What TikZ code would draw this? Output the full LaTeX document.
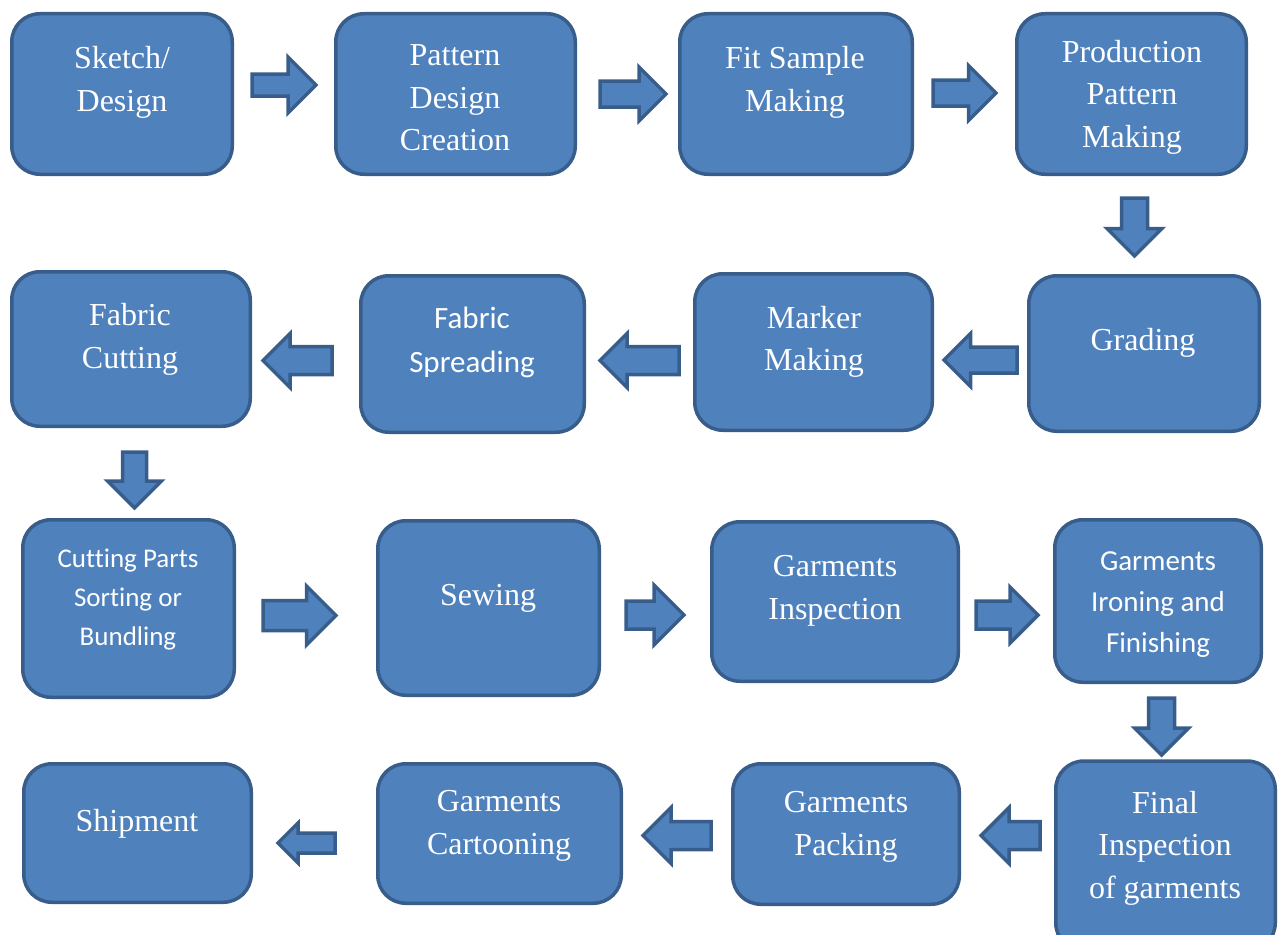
\documentclass[tikz,border=0pt]{standalone}
\usepackage{fontspec}
\setmainfont{Liberation Serif}
\newfontfamily\calib[Ligatures=NoCommon]{Carlito}
\definecolor{boxfill}{HTML}{4F81BD}
\definecolor{boxline}{HTML}{385D8A}
\tikzset{
  box/.style={draw=boxline, fill=boxfill, line width=3.5pt, rounded corners=28pt, inner sep=0pt},
  txt/.style={text=white, align=center, inner sep=0pt, font=\fontsize{32}{42.5}\selectfont},
  stxt/.style n args={2}{text=white, align=center, inner sep=0pt, font=\calib\fontsize{#1}{#2}\selectfont},
  blockarrow/.style={draw=boxline, fill=boxfill, line width=3.5pt},
}
% name, x, y, rotation, length, half shaft, half head
\newcommand\blockarr[7]{%
  \begin{scope}[shift={(#2,#3)}, rotate=#4]
    \draw[blockarrow] ({-#5/2},{-#6}) -- ({#5/2-#7},{-#6}) -- ({#5/2-#7},{-#7})
      -- ({#5/2},0) -- ({#5/2-#7},{#7}) -- ({#5/2-#7},{#6}) -- ({-#5/2},{#6}) -- cycle;
    \coordinate (#1) at (0,0);
  \end{scope}}
\begin{document}
\begin{tikzpicture}[x=1pt, y=-1pt]
\useasboundingbox (0,0) rectangle (1281,934);
\clip (0,0) rectangle (1281,934);
% boxes
\node[box, minimum width=220.5pt, minimum height=160.5pt] (b1) at (122,94) {};
\node[box, minimum width=239.5pt, minimum height=160.5pt] (b2) at (455.5,94) {};
\node[box, minimum width=232.5pt, minimum height=160.5pt] (b3) at (796,94) {};
\node[box, minimum width=229.5pt, minimum height=160.5pt] (b4) at (1131.5,94) {};
\node[box, minimum width=238.5pt, minimum height=154.5pt] (b5) at (131,349) {};
\node[box, minimum width=223.5pt, minimum height=156.5pt] (b6) at (472.5,354) {};
\node[box, minimum width=237.5pt, minimum height=156.5pt] (b7) at (813.5,352) {};
\node[box, minimum width=230.5pt, minimum height=155.5pt] (b8) at (1144,353.5) {};
\node[box, minimum width=211.5pt, minimum height=177.5pt] (b9) at (128.5,608.5) {};
\node[box, minimum width=221.5pt, minimum height=174.5pt] (b10) at (488.5,608) {};
\node[box, minimum width=246.5pt, minimum height=159.5pt] (b11) at (835,601.5) {};
\node[box, minimum width=206.5pt, minimum height=162.5pt] (b12) at (1158,601) {};
\node[box, minimum width=227.5pt, minimum height=138.5pt] (b13) at (137.5,833) {};
\node[box, minimum width=243.5pt, minimum height=139.5pt] (b14) at (499.5,833.5) {};
\node[box, minimum width=226.5pt, minimum height=140.5pt] (b15) at (846,834) {};
\node[box, minimum width=219.5pt, minimum height=190pt] (b16) at (1165.5,856) {};
% texts
\node[txt] (t1) at (122,82.5) {Sketch/\\Design};
\node[txt] (t2) at (455,98) {Pattern\\Design\\Creation};
\node[txt] (t3) at (795,82.5) {Fit Sample\\Making};
\node[txt] (t4) at (1132,97) {Production\\Pattern\\Making};
\node[txt] (t5) at (130,339.5) {Fabric\\Cutting};
\node[stxt={31}{44}] (t6) at (472,342) {Fabric\\Spreading};
\node[txt] (t7) at (814,342) {Marker\\Making};
\node[txt] (t8) at (1143,342.5) {Grading};
\node[stxt={27}{39}] (t9) at (128,600) {Cutting Parts\\Sorting or\\Bundling};
\node[txt] (t10) at (488,598.5) {Sewing};
\node[txt] (t11) at (835,591) {Garments\\Inspection};
\node[stxt={29}{41}] (t12) at (1158,605) {Garments\\Ironing and\\Finishing};
\node[txt] (t13) at (137,823.5) {Shipment};
\node[txt] (t14) at (499,826) {Garments\\Cartooning};
\node[txt] (t15) at (846,827) {Garments\\Packing};
\node[txt] (t16) at (1165,848) {Final\\Inspection\\of garments};
% block arrows between the boxes
\blockarr{a1}{284}{85}{0}{64}{11}{28}
\blockarr{a2}{633}{94}{0}{66}{13}{27}
\blockarr{a3}{964.5}{93}{0}{63}{13}{27.5}
\blockarr{a4}{1134.5}{227}{-90}{58}{13}{27.5}
\blockarr{a5}{980.5}{360}{180}{73}{13}{26.5}
\blockarr{a6}{639.5}{360.5}{180}{79}{14}{27}
\blockarr{a7}{297.5}{360.5}{180}{69}{14}{27}
\blockarr{a8}{134.5}{480}{-90}{56}{12}{27}
\blockarr{a9}{299.5}{615.5}{0}{73}{15}{29.5}
\blockarr{a10}{655}{615}{0}{58}{14}{30}
\blockarr{a11}{1007}{615}{0}{62}{14}{28}
\blockarr{a12}{1161.5}{726.5}{-90}{57}{13}{27}
\blockarr{a13}{1010.5}{835.5}{180}{59}{14}{28}
\blockarr{a14}{677}{835.5}{180}{68}{14}{28}
\blockarr{a15}{306.5}{843}{180}{57}{10}{20}
\end{tikzpicture}
\end{document}
